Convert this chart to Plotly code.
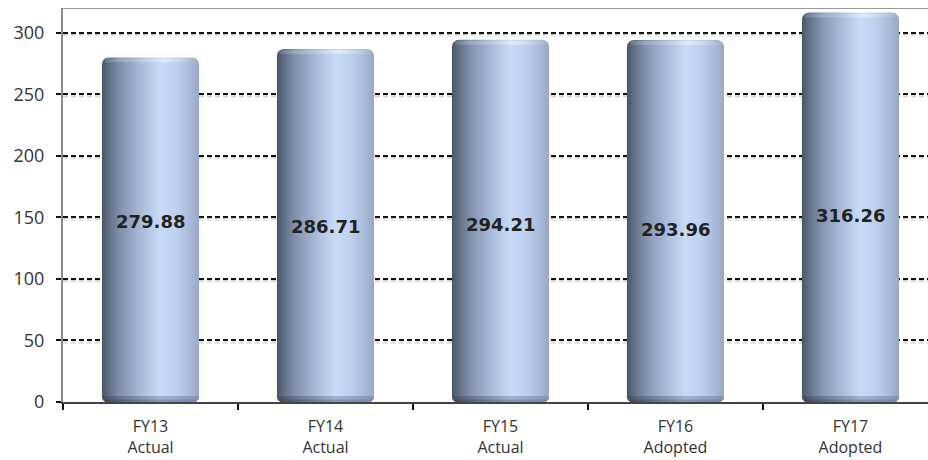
import math
import plotly.graph_objects as go

# ---- data ----
categories = ["FY13<br>Actual", "FY14<br>Actual", "FY15<br>Actual", "FY16<br>Adopted", "FY17<br>Adopted"]
values = [279.88, 286.71, 294.21, 293.96, 316.26]
label_y = [146.7, 142.7, 144.0, 140.0, 151.6]
y_ticks = [0, 50, 100, 150, 200, 250, 300]

# ---- layout constants ----
W, H = 928, 460
M_L, M_R, M_T, M_B = 63, 0, 8, 58
X_RANGE = [-0.5, 4.443]
Y_RANGE = [0, 320]
BAR_WIDTH = 0.555

px_x = (W - M_L - M_R) / (X_RANGE[1] - X_RANGE[0])
px_y = (H - M_T - M_B) / (Y_RANGE[1] - Y_RANGE[0])

body_scale = [
    [0.00, "#4a5468"],
    [0.06, "#5f6b82"],
    [0.20, "#8394b1"],
    [0.40, "#a8bad8"],
    [0.60, "#c7dbf7"],
    [0.75, "#bed2f0"],
    [0.90, "#a9bbd9"],
    [1.00, "#98a8c4"],
]
cap_scale = [
    [0.00, "#6b778c"],
    [0.15, "#9aa7bf"],
    [0.50, "#cbd9ee"],
    [0.65, "#e3eefb"],
    [0.85, "#c4d2e8"],
    [1.00, "#a9b6cc"],
]
base_scale = [
    [0.00, "#3b4558"],
    [0.30, "#5c6a84"],
    [0.60, "#7d8dab"],
    [1.00, "#7080a0"],
]


def rounded_rect(x0, x1, y0, y1, r_top, r_bot, n=8):
    """Closed outline of a rectangle with rounded corners (radii in pixels)."""
    rxt, ryt = r_top / px_x, r_top / px_y
    rxb, ryb = r_bot / px_x, r_bot / px_y
    xs, ys = [], []
    for k in range(n + 1):
        a = math.pi + k * (math.pi / 2) / n
        xs.append(x0 + rxb + rxb * math.cos(a))
        ys.append(y0 + ryb + ryb * math.sin(a))
    for k in range(n + 1):
        a = 1.5 * math.pi + k * (math.pi / 2) / n
        xs.append(x1 - rxb + rxb * math.cos(a))
        ys.append(y0 + ryb + ryb * math.sin(a))
    for k in range(n + 1):
        a = k * (math.pi / 2) / n
        xs.append(x1 - rxt + rxt * math.cos(a))
        ys.append(y1 - ryt + ryt * math.sin(a))
    for k in range(n + 1):
        a = 0.5 * math.pi + k * (math.pi / 2) / n
        xs.append(x0 + rxt + rxt * math.cos(a))
        ys.append(y1 - ryt + ryt * math.sin(a))
    xs.append(xs[0])
    ys.append(ys[0])
    return xs, ys


fig = go.Figure()

for i, v in enumerate(values):
    x0, x1 = i - BAR_WIDTH / 2, i + BAR_WIDTH / 2
    # cylinder body
    bx, by = rounded_rect(x0, x1, 0, v, 7, 5)
    fig.add_trace(go.Scatter(
        x=bx, y=by, mode="lines", fill="toself",
        line=dict(width=0), hoverinfo="skip", showlegend=False,
        fillgradient=dict(type="horizontal", colorscale=body_scale),
    ))
    # shaded rim at the base
    rx, ry = rounded_rect(x0, x1, 0, 6 / px_y, 0.1, 5)
    fig.add_trace(go.Scatter(
        x=rx, y=ry, mode="lines", fill="toself",
        line=dict(width=0), hoverinfo="skip", showlegend=False,
        fillgradient=dict(type="horizontal", colorscale=base_scale),
        opacity=0.55,
    ))
    rx2, ry2 = rounded_rect(x0 + 2 / px_x, x1 - 2 / px_x, 0, 2.5 / px_y, 0.1, 2)
    fig.add_trace(go.Scatter(
        x=rx2, y=ry2, mode="lines", fill="toself",
        line=dict(width=0), hoverinfo="skip", showlegend=False,
        fillgradient=dict(type="horizontal", colorscale=base_scale),
        opacity=0.8,
    ))
    # light rim along the top
    tx, ty = rounded_rect(x0 + 3 / px_x, x1 - 3 / px_x, v - 5 / px_y, v - 1 / px_y, 3, 0.1)
    fig.add_trace(go.Scatter(
        x=tx, y=ty, mode="lines", fill="toself",
        line=dict(width=0), hoverinfo="skip", showlegend=False,
        fillgradient=dict(type="horizontal", colorscale=cap_scale),
        opacity=0.85,
    ))

# value labels
for i, v in enumerate(values):
    fig.add_annotation(
        x=i, y=label_y[i], text=f"<b>{v:.2f}</b>", showarrow=False,
        font=dict(family="DejaVu Sans", size=18, color="#222222"),
    )

# soft shadow under each dashed gridline
shapes = []
for t in y_ticks[1:]:
    yy = t - 2 / px_y
    shapes.append(dict(
        type="line", xref="paper", yref="y", x0=0, x1=1, y0=yy, y1=yy,
        line=dict(color="#d4d4d4", width=2, dash="5px,3px"), layer="below",
    ))
# top border of the plot area
shapes.append(dict(
    type="line", xref="paper", yref="y", x0=0, x1=1, y0=Y_RANGE[1], y1=Y_RANGE[1],
    line=dict(color="#9a9a9a", width=2), layer="above",
))

fig.update_layout(
    width=W, height=H,
    margin=dict(l=M_L, r=M_R, t=M_T, b=M_B, pad=0),
    paper_bgcolor="white", plot_bgcolor="white",
    showlegend=False,
    shapes=shapes,
    xaxis=dict(
        range=X_RANGE, showgrid=False, zeroline=False,
        tickmode="array", tickvals=list(range(len(categories))), ticktext=categories,
        ticks="", ticklabelstandoff=9,
        tickfont=dict(family="Open Sans", size=16, color="#333333"),
        showline=True, linecolor="#444444", linewidth=2,
        minor=dict(
            tickmode="array",
            tickvals=[k - 0.5 for k in range(len(categories) + 1)],
            ticks="outside", ticklen=6, tickwidth=2, tickcolor="#111111",
            showgrid=False,
        ),
        fixedrange=True,
    ),
    yaxis=dict(
        range=Y_RANGE, tickmode="array", tickvals=y_ticks,
        showgrid=True, gridcolor="#111111", gridwidth=2, griddash="5px,3px",
        zeroline=False,
        ticks="outside", ticklen=5, tickwidth=2, tickcolor="#111111",
        ticklabelstandoff=8,
        tickfont=dict(family="Open Sans", size=18, color="#333333"),
        showline=True, linecolor="#8c8c8c", linewidth=2,
        fixedrange=True,
    ),
)

fig.write_html("out.html")
